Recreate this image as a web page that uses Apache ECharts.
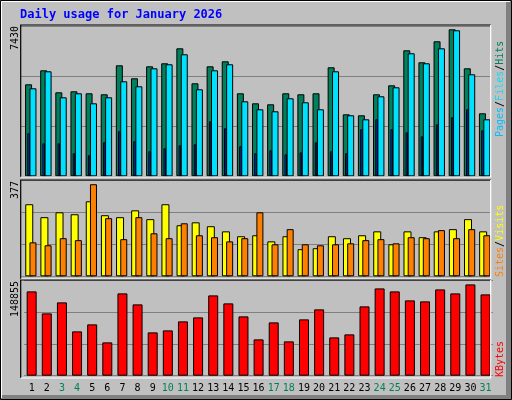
<!DOCTYPE html>
<html><head><meta charset="utf-8">
<script src="https://cdn.jsdelivr.net/npm/echarts@6/dist/echarts.min.js"></script>
<style>html,body{margin:0;padding:0;background:#c0c0c0}#c{width:512px;height:400px}</style>
</head><body><div id="c"></div>
<script>
const days = ['1','2','3','4','5','6','7','8','9','10','11','12','13','14','15','16','17','18','19','20','21','22','23','24','25','26','27','28','29','30','31'];
const weekend = ['3','4','10','11','17','18','24','25','31'];
const hits = [4650,5358,4246,4297,4196,4145,5611,4954,5560,5712,6470,4701,5560,5813,4196,3690,3640,4196,4145,4196,5510,3134,3084,4145,4600,6369,5763,6824,7430,5459,3185];
const files = [4448,5308,3993,4196,3690,3993,4802,4550,5459,5662,6167,4398,5358,5662,3791,3387,3286,3943,3741,3387,5308,3084,2881,4044,4499,6218,5712,6470,7380,5156,2881];
const pages = [2174,1668,1668,1163,1062,1719,2275,1769,1264,1415,1567,1618,2780,2426,1517,1163,1314,1112,1213,1719,1264,1163,2376,2881,2376,2224,2022,2629,2982,3387,2325];
const visits = [295,242,262,254,307,250,242,270,234,295,209,221,205,184,164,168,143,164,111,115,164,156,168,184,131,184,160,184,193,234,184];
const sites = [139,127,156,148,377,238,152,242,176,156,217,168,160,143,156,262,131,193,131,127,131,135,148,152,135,160,156,189,156,193,168];
const kbytes = [137455,101597,119526,72259,83668,54330,134195,116266,70629,73889,88558,95078,130935,117896,96707,59220,86928,55960,91818,108117,62480,67369,113006,142345,137455,122786,121156,140715,134195,148855,132565];
const maxLabels = ['7430','377','148855'];

const mono = 'DejaVu Sans Mono';
const chart = echarts.init(document.getElementById('c'));
const panels = [
  {top:26.3,h:150,max:7582},
  {top:180.3,h:96,max:393},
  {top:280.3,h:95.4,max:155540}
];
const gdefs = [[0,0,true],[0,4.4,false],[0,0,false],[1,0.7,true],[1,4.4,false],[2,3.1,true]];
const grids = gdefs.map(g=>({left:21+g[1],width:469,top:panels[g[0]].top,height:panels[g[0]].h}));
const xAxes = gdefs.map((g,i)=>({type:'category',gridIndex:i,data:days,
  axisLine:{show:false},axisTick:{show:false},
  axisLabel:{show:i===5,interval:0,margin:8,fontFamily:mono,fontSize:10,
    formatter:v=>weekend.includes(v)?'{w|'+v+'}':'{n|'+v+'}',
    rich:{w:{color:'#00805c',fontFamily:mono,fontSize:10},n:{color:'#000',fontFamily:mono,fontSize:10}}}}));
const yAxes = gdefs.map((g,i)=>{const m=panels[g[0]].max;return {type:'value',gridIndex:i,min:0,max:m,interval:m/3,
  axisLabel:{show:false},axisLine:{show:false},axisTick:{show:false},
  splitLine:{show:g[2],lineStyle:{color:'#808080',width:1}}};});
const bs = (i,data,color,w)=>({type:'bar',xAxisIndex:i,yAxisIndex:i,data:data,barWidth:w,
  itemStyle:{color:color,borderColor:'#000',borderWidth:1},silent:true,animation:false});
const series = [
  bs(0,hits,'#00805c',7),
  bs(1,files,'#00e0ff',7),
  bs(2,pages,'#0040ff',2.5),
  bs(3,visits,'#ffff00',8),
  bs(4,sites,'#ff8000',7),
  bs(5,kbytes,'#ff0000',10)
];
const prect = [[20.7,25,470,152],[20.7,180,470,99],[20.7,280,470,98]];
const graphic = [];
graphic.push({type:'rect',shape:{x:0.5,y:0.5,width:511,height:399},style:{fill:null,stroke:'#000',lineWidth:1},z:0});
graphic.push({type:'rect',shape:{x:506,y:1,width:5,height:398},style:{fill:'#808080'},z:0});
graphic.push({type:'rect',shape:{x:1,y:395,width:510,height:4},style:{fill:'#808080'},z:0});
graphic.push({type:'polyline',shape:{points:[[1.5,398],[1.5,1.5],[510,1.5]]},style:{stroke:'#fff',fill:null,lineWidth:1},z:0});
prect.forEach(r=>{
  graphic.push({type:'polyline',shape:{points:[[r[0],r[1]+r[3]],[r[0],r[1]],[r[0]+r[2],r[1]]]},style:{stroke:'#000',fill:null,lineWidth:1.2},z:100});
  graphic.push({type:'polyline',shape:{points:[[r[0]+r[2],r[1]],[r[0]+r[2],r[1]+r[3]],[r[0],r[1]+r[3]]]},style:{stroke:'#fff',fill:null,lineWidth:1.2},z:100});
});
graphic.push({type:'text',x:20,y:9,style:{text:'Daily usage for January 2026',fill:'#0000ff',font:'bold 12px '+mono},z:101});
const lp=[50,199,317];
maxLabels.forEach((t,i)=>graphic.push({type:'text',x:15,y:lp[i],rotation:Math.PI/2,
  style:{text:t,fill:'#000',font:'10px '+mono,align:'left',verticalAlign:'middle'},z:101}));
const F='10px '+mono;
const rs = (t,b)=>({type:'text',x:500,y:b,rotation:Math.PI/2,style:{text:t,font:F,align:'left',verticalAlign:'middle',
  rich:{p:{fill:'#00c0ff',font:F},f:{fill:'#00e0ff',font:F},h:{fill:'#00805c',font:F},
        s:{fill:'#ff8000',font:F},v:{fill:'#ffff00',font:F},k:{fill:'#ff0000',font:F},
        x:{fill:'#000',font:F}}},z:101});
graphic.push(rs('{p|Pages}{x|/}{f|Files}{x|/}{h|Hits}',137));
graphic.push(rs('{s|Sites}{x|/}{v|Visits}',277));
graphic.push(rs('{k|KBytes}',377));
chart.setOption({backgroundColor:'#c0c0c0',animation:false,grid:grids,xAxis:xAxes,yAxis:yAxes,series:series,graphic:graphic});
</script></body></html>
